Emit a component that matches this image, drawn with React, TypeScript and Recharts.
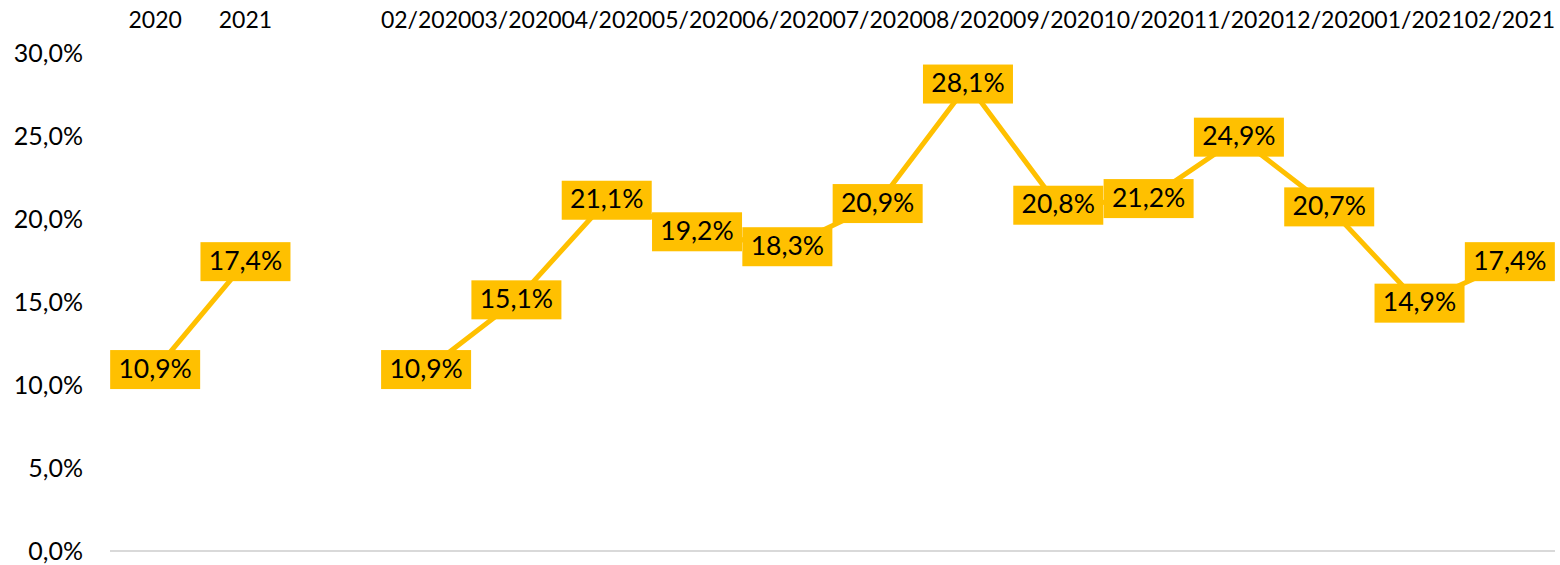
import { LineChart, Line, XAxis, YAxis, ReferenceLine, LabelList } from 'recharts';

const periods = [
  '2020', '2021', '',
  '02/2020', '03/2020', '04/2020', '05/2020', '06/2020', '07/2020', '08/2020',
  '09/2020', '10/2020', '11/2020', '12/2020', '01/2021', '02/2021',
];
const shares: (number | null)[] = [
  10.9, 17.4, null,
  10.9, 15.1, 21.1, 19.2, 18.3, 20.9, 28.1,
  20.8, 21.2, 24.9, 20.7, 14.9, 17.4,
];
const yTicks = [0, 5, 10, 15, 20, 25, 30];

const data = periods.map((period, i) => ({ period, share: shares[i] }));

const YELLOW = '#FFC000';
const FONT = 'Lato, "Noto Sans", sans-serif';

const fmt = (v: number) => `${v.toFixed(1).replace('.', ',')}%`;

function BoxLabel(props: any) {
  const { x, y, value } = props;
  if (value == null) return null;
  return (
    <g>
      <rect x={x - 45} y={y - 20} width={90} height={39} fill={YELLOW} />
      <text
        x={x}
        y={y + 1}
        textAnchor="middle"
        dominantBaseline="middle"
        fontFamily={FONT}
        fontSize={26.5}
        fill="#000"
      >
        {fmt(value)}
      </text>
    </g>
  );
}

export default function App() {
  return (
    <div style={{ position: 'absolute', left: 0, top: 0, background: '#fff' }}>
      <LineChart
        width={1560}
        height={565}
        data={data}
        margin={{ top: 23, right: 5, bottom: 14, left: 10 }}
      >
        <XAxis
          dataKey="period"
          orientation="top"
          scale="band"
          interval={0}
          axisLine={false}
          tickLine={false}
          tickSize={0}
          tickMargin={25}
          height={30}
          tick={{ fontFamily: FONT, fontSize: 23, fill: '#000' }}
        />
        <YAxis
          domain={[0, 30]}
          ticks={yTicks}
          width={100}
          axisLine={false}
          tickLine={false}
          tickSize={0}
          tickMargin={27}
          tickFormatter={fmt}
          tick={{ fontFamily: FONT, fontSize: 25, fill: '#000' }}
        />
        <ReferenceLine y={0} stroke="#d9d9d9" strokeWidth={2} />
        <Line
          dataKey="share"
          stroke={YELLOW}
          strokeWidth={5}
          dot={false}
          activeDot={false}
          connectNulls={false}
          isAnimationActive={false}
        >
          <LabelList dataKey="share" content={<BoxLabel />} />
        </Line>
      </LineChart>
    </div>
  );
}
